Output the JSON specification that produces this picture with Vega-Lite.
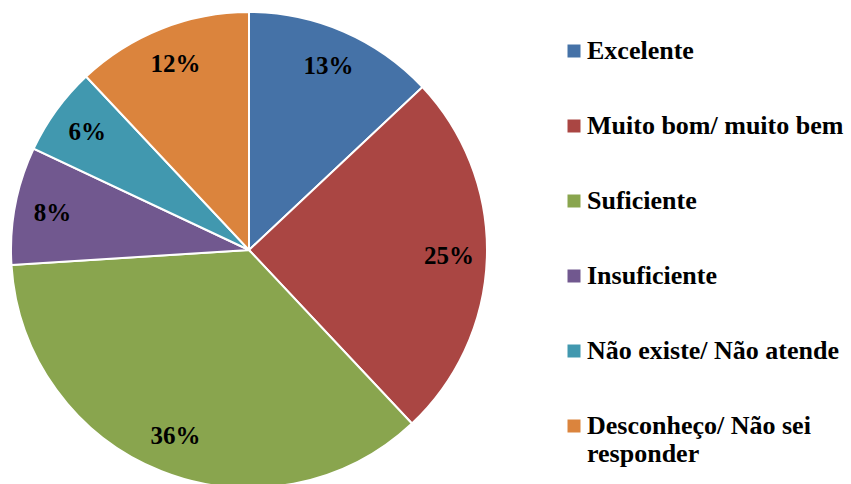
{
  "$schema": "https://vega.github.io/schema/vega-lite/v6.json",
  "width": 476,
  "height": 476,
  "padding": {"left": 7, "top": 8, "right": 0, "bottom": 0},
  "background": "white",
  "data": {
    "values": [
      {"cat": "Excelente", "pct": 13, "lab": "13%", "i": 1},
      {"cat": "Muito bom/ muito bem", "pct": 25, "lab": "25%", "i": 2},
      {"cat": "Suficiente", "pct": 36, "lab": "36%", "i": 3},
      {"cat": "Insuficiente", "pct": 8, "lab": "8%", "i": 4},
      {"cat": "Não existe/ Não atende", "pct": 6, "lab": "6%", "i": 5},
      {"cat": "Desconheço/ Não sei responder", "pct": 12, "lab": "12%", "i": 6}
    ]
  },
  "encoding": {
    "theta": {"field": "pct", "type": "quantitative", "stack": true},
    "order": {"field": "i", "type": "quantitative"},
    "color": {
      "field": "cat",
      "type": "nominal",
      "sort": ["Excelente", "Muito bom/ muito bem", "Suficiente", "Insuficiente", "Não existe/ Não atende", "Desconheço/ Não sei responder"],
      "scale": {
        "domain": ["Excelente", "Muito bom/ muito bem", "Suficiente", "Insuficiente", "Não existe/ Não atende", "Desconheço/ Não sei responder"],
        "range": ["#4572A7", "#AA4643", "#89A54E", "#71588F", "#4198AF", "#DB843D"]
      },
      "legend": {
        "orient": "none",
        "legendX": 550,
        "legendY": 26,
        "title": null,
        "padding": 0,
        "symbolType": "square",
        "symbolSize": 169,
        "symbolStrokeWidth": 0,
        "labelFont": "Liberation Serif",
        "labelFontSize": 26,
        "labelFontWeight": "bold",
        "labelColor": "black",
        "labelOffset": 0,
        "labelLimit": 400,
        "rowPadding": 49,
        "labelExpr": "datum.label == 'Desconheço/ Não sei responder' ? ['Desconheço/ Não sei', 'responder'] : datum.label"
      }
    }
  },
  "layer": [
    {
      "mark": {"type": "arc", "outerRadius": 238, "stroke": "white", "strokeWidth": 2}
    },
    {
      "mark": {"type": "text", "radius": 200, "font": "Liberation Serif", "fontSize": 25, "fontWeight": "bold", "align": "center", "baseline": "middle"},
      "encoding": {
        "text": {"field": "lab", "type": "nominal"},
        "color": {"value": "black"}
      }
    }
  ],
  "config": {"view": {"stroke": null}}
}
